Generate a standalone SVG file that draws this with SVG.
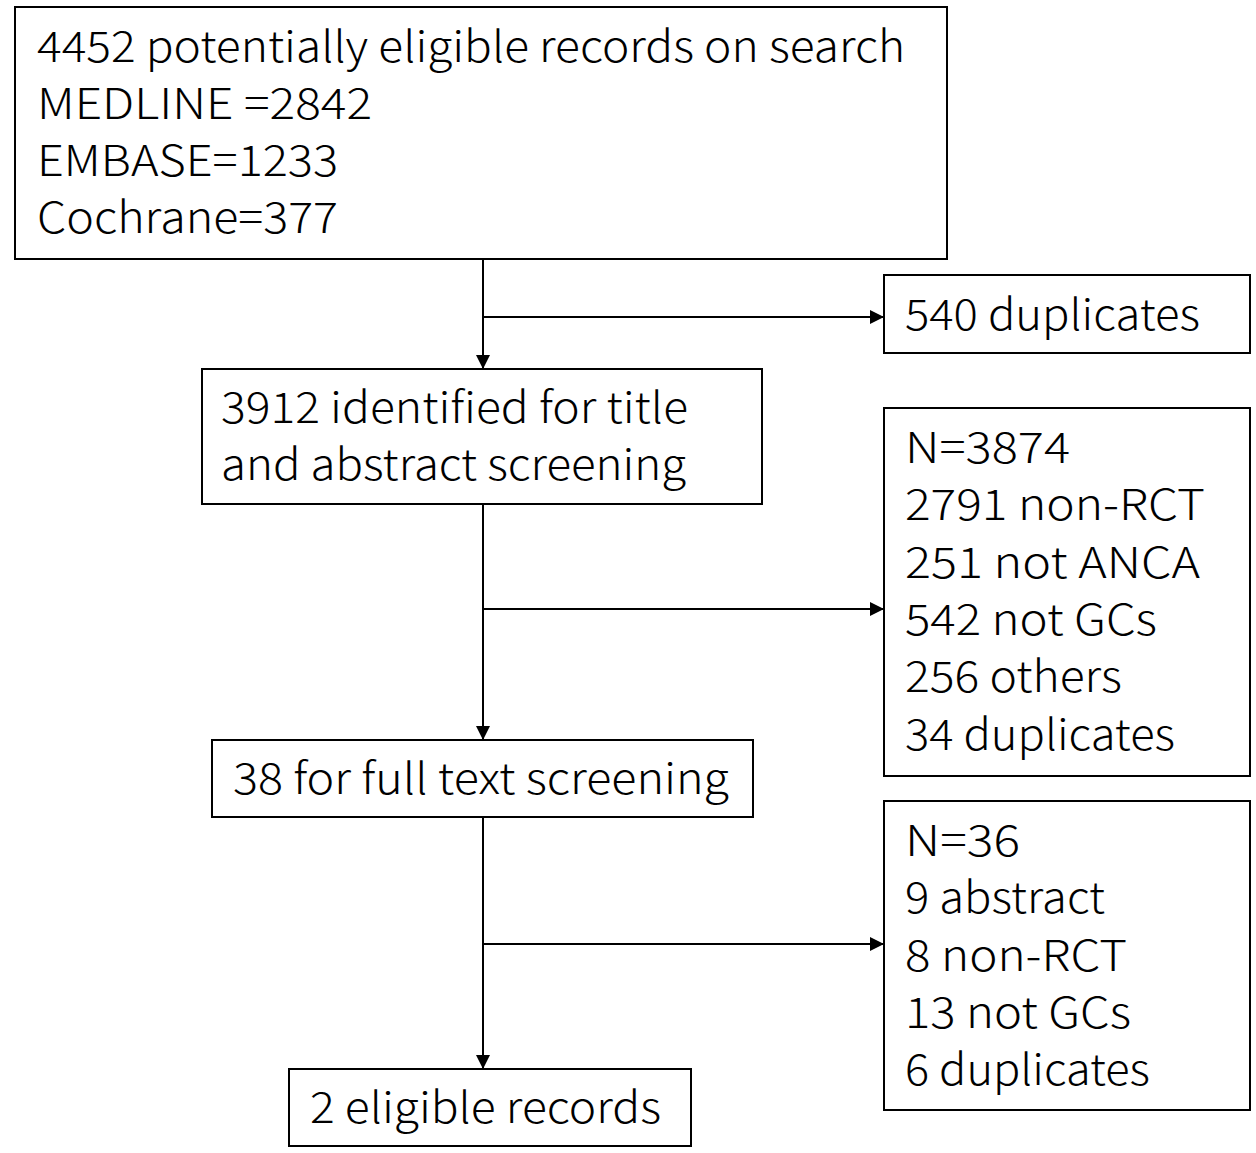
<svg xmlns="http://www.w3.org/2000/svg" width="1256" height="1153" viewBox="0 0 1256 1153">
<defs>
<marker id="ah" markerWidth="14" markerHeight="14" refX="14" refY="7" orient="auto" markerUnits="userSpaceOnUse">
<path d="M0,0 L14,7 L0,14 Z" fill="#000"/>
</marker>
<style>
.box{fill:#fff;stroke:#000;stroke-width:2}
.t{font-family:"Noto Sans CJK SC","Noto Sans",sans-serif;font-size:43px;font-weight:300;fill:#000}
.c{fill:none;stroke:#000;stroke-width:2}
</style>
</defs>
<rect width="1256" height="1153" fill="#fff"/>
<g id="connectors">
<line class="c" x1="483" y1="259" x2="483" y2="369" marker-end="url(#ah)"/>
<line class="c" x1="483" y1="317" x2="884" y2="317" marker-end="url(#ah)"/>
<line class="c" x1="483" y1="504" x2="483" y2="740" marker-end="url(#ah)"/>
<line class="c" x1="483" y1="609" x2="884" y2="609" marker-end="url(#ah)"/>
<line class="c" x1="483" y1="817" x2="483" y2="1069" marker-end="url(#ah)"/>
<line class="c" x1="483" y1="944" x2="884" y2="944" marker-end="url(#ah)"/>
</g>
<g id="search">
<rect class="box" x="15" y="7" width="932" height="252"/>
<text class="t" x="37" y="62" textLength="868" lengthAdjust="spacingAndGlyphs">4452 potentially eligible records on search</text>
<text class="t" x="37" y="119" textLength="335" lengthAdjust="spacingAndGlyphs">MEDLINE =2842</text>
<text class="t" x="37" y="176" textLength="301" lengthAdjust="spacingAndGlyphs">EMBASE=1233</text>
<text class="t" x="37" y="233" textLength="301" lengthAdjust="spacingAndGlyphs">Cochrane=377</text>
</g>
<g id="dup540">
<rect class="box" x="884" y="275" width="366" height="78"/>
<text class="t" x="905" y="330" textLength="295" lengthAdjust="spacingAndGlyphs">540 duplicates</text>
</g>
<g id="screen">
<rect class="box" x="202" y="369" width="560" height="135"/>
<text class="t" x="221" y="423" textLength="467" lengthAdjust="spacingAndGlyphs">3912 identified for title</text>
<text class="t" x="221" y="480" textLength="465" lengthAdjust="spacingAndGlyphs">and abstract screening</text>
</g>
<g id="excl1">
<rect class="box" x="884" y="408" width="366" height="368"/>
<text class="t" x="905" y="463" textLength="165" lengthAdjust="spacingAndGlyphs">N=3874</text>
<text class="t" x="905" y="520" textLength="300" lengthAdjust="spacingAndGlyphs">2791 non-RCT</text>
<text class="t" x="905" y="578" textLength="295" lengthAdjust="spacingAndGlyphs">251 not ANCA</text>
<text class="t" x="905" y="635" textLength="252" lengthAdjust="spacingAndGlyphs">542 not GCs</text>
<text class="t" x="905" y="692" textLength="217" lengthAdjust="spacingAndGlyphs">256 others</text>
<text class="t" x="905" y="750" textLength="270" lengthAdjust="spacingAndGlyphs">34 duplicates</text>
</g>
<g id="fulltext">
<rect class="box" x="212" y="740" width="541" height="77"/>
<text class="t" x="233" y="794" textLength="496" lengthAdjust="spacingAndGlyphs">38 for full text screening</text>
</g>
<g id="excl2">
<rect class="box" x="884" y="801" width="366" height="309"/>
<text class="t" x="905" y="856" textLength="115" lengthAdjust="spacingAndGlyphs">N=36</text>
<text class="t" x="905" y="913" textLength="200" lengthAdjust="spacingAndGlyphs">9 abstract</text>
<text class="t" x="905" y="971" textLength="222" lengthAdjust="spacingAndGlyphs">8 non-RCT</text>
<text class="t" x="905" y="1028" textLength="226" lengthAdjust="spacingAndGlyphs">13 not GCs</text>
<text class="t" x="905" y="1085" textLength="245" lengthAdjust="spacingAndGlyphs">6 duplicates</text>
</g>
<g id="eligible">
<rect class="box" x="289" y="1069" width="402" height="77"/>
<text class="t" x="310" y="1123" textLength="351" lengthAdjust="spacingAndGlyphs">2 eligible records</text>
</g>
</svg>
